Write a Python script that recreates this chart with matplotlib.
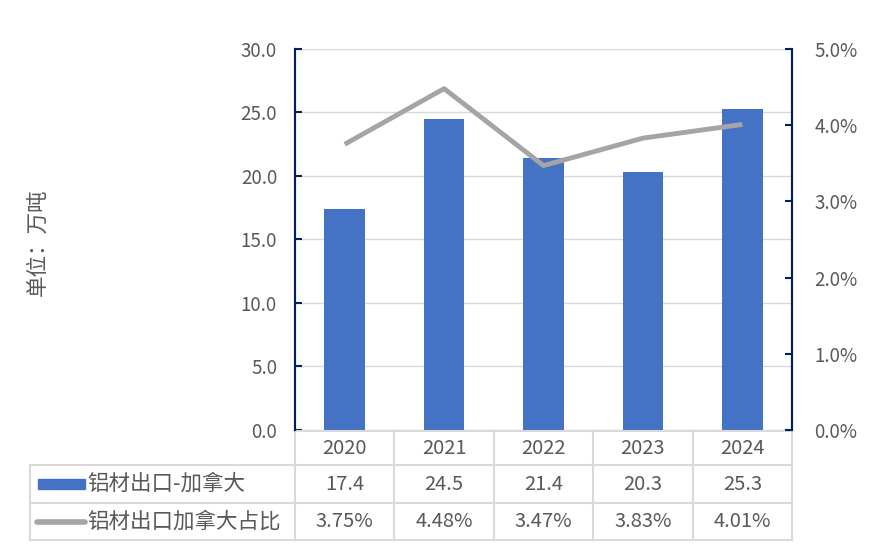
import matplotlib.pyplot as plt
from matplotlib.ticker import FuncFormatter, MultipleLocator

# data
years = ['2020', '2021', '2022', '2023', '2024']
export_vol = [17.4, 24.5, 21.4, 20.3, 25.3]          # 万吨
export_share = [3.75, 4.48, 3.47, 3.83, 4.01]        # %
bar_label = '铝材出口-加拿大'
line_label = '铝材出口加拿大占比'

plt.rcParams['font.family'] = ['Noto Sans CJK SC', 'DejaVu Sans']
txt = '#595959'
grid = '#D9D9D9'
navy = '#002060'
bar_c = '#4472C4'
line_c = '#A5A5A5'

fig = plt.figure(figsize=(8.77, 5.51), dpi=100)
ax = fig.add_axes([0.3364, 0.2196, 0.5667, 0.6915])
ax2 = ax.twinx()

x = list(range(len(years)))
ax.bar(x, export_vol, width=0.41, color=bar_c, zorder=2)
ax2.plot(x, export_share, color=line_c, lw=3.5, solid_capstyle='butt', zorder=3)

ax.set_xlim(-0.5, len(years) - 0.5)
ax.set_ylim(0, 30)
ax.yaxis.set_major_locator(MultipleLocator(5))
ax.yaxis.set_major_formatter(FuncFormatter(lambda v, p: f'{v:.1f}'))
ax2.set_ylim(0, 5)
ax2.yaxis.set_major_locator(MultipleLocator(1))
ax2.yaxis.set_major_formatter(FuncFormatter(lambda v, p: f'{v:.1f}%'))

ax.grid(axis='y', color=grid, lw=1, zorder=0)
ax.set_axisbelow(True)
ax.set_xticks([])
for a in (ax, ax2):
    a.spines['top'].set_visible(False)
    a.spines['bottom'].set_visible(False)
    a.spines['left'].set_color(navy)
    a.spines['right'].set_color(navy)
    a.spines['left'].set_linewidth(1.5)
    a.spines['right'].set_linewidth(1.5)
ax.tick_params(axis='y', direction='in', length=5, width=1.5, color=navy,
               labelcolor=txt, labelsize=13.5, pad=13)
ax2.tick_params(axis='y', direction='in', length=5, width=1.5, color=navy,
                labelcolor=txt, labelsize=13.5, pad=16)

fig.text(0.043, 0.56, '单位：万吨', rotation=90, ha='center', va='center',
         color=txt, fontsize=15.5)

# data table under the axis
tr = ax.get_xaxis_transform()
row_edges = [-0.003, -0.092, -0.192, -0.289]
left_x = -3.17
kw = dict(color=grid, lw=1.5, transform=tr, clip_on=False)
ax.plot([-0.5, len(years) - 0.5], [row_edges[0]] * 2, **kw)
for yv in row_edges[1:]:
    ax.plot([left_x, len(years) - 0.5], [yv, yv], **kw)
for i in range(len(years) + 1):
    ax.plot([i - 0.5, i - 0.5], [row_edges[0], row_edges[-1]], **kw)
ax.plot([left_x, left_x], [row_edges[1], row_edges[-1]], **kw)

mid = [(row_edges[k] + row_edges[k + 1]) / 2 for k in range(3)]
for i, yr in enumerate(years):
    ax.text(i, mid[0], yr, ha='center', va='center', color=txt, fontsize=14.5, transform=tr)
    ax.text(i, mid[1], f'{export_vol[i]:.1f}', ha='center', va='center', color=txt,
            fontsize=14.5, transform=tr)
    ax.text(i, mid[2], f'{export_share[i]:.2f}%', ha='center', va='center', color=txt,
            fontsize=14.5, transform=tr)

# legend keys in the table
ax.add_patch(plt.Rectangle((left_x + 0.085, mid[1] - 0.014), 0.47, 0.028, color=bar_c,
                           transform=tr, clip_on=False))
ax.plot([left_x + 0.07, left_x + 0.56], [mid[2], mid[2]], color=line_c, lw=4,
        solid_capstyle='round', transform=tr, clip_on=False)
ax.text(left_x + 0.58, mid[1], bar_label, ha='left', va='center', color=txt,
        fontsize=15.5, transform=tr)
ax.text(left_x + 0.58, mid[2], line_label, ha='left', va='center', color=txt,
        fontsize=15.5, transform=tr)

fig.savefig('out.png', dpi=100)
